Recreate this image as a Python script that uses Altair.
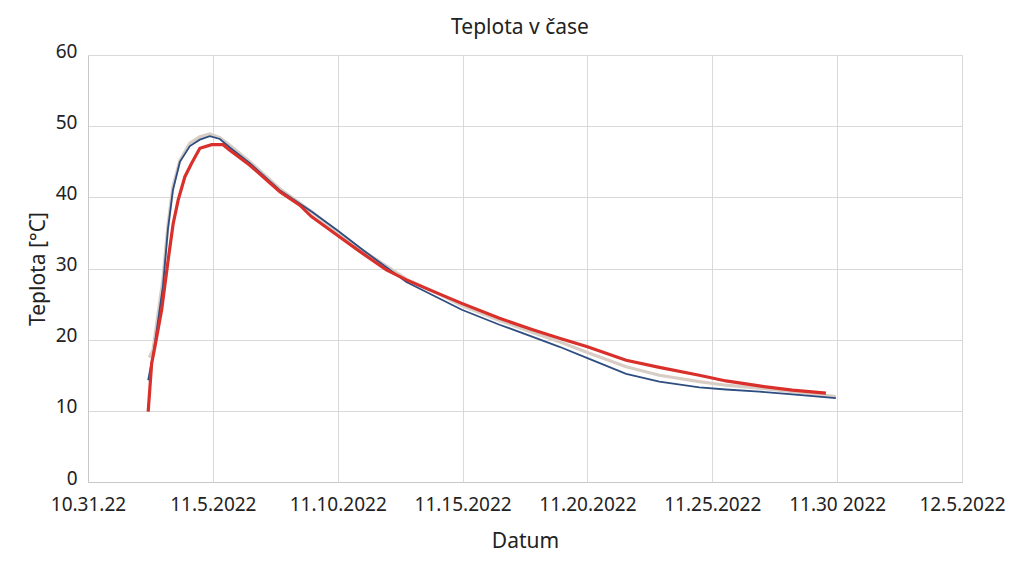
import json
import altair as alt
import pandas as pd

# ---- data ----
x_tick_days = [0, 5, 10, 15, 20, 25, 30, 35]
x_tick_labels = ["10.31.22", "11.5.2022", "11.10.2022", "11.15.2022",
                 "11.20.2022", "11.25.2022", "11.30 2022", "12.5.2022"]
y_ticks = [0, 10, 20, 30, 40, 50, 60]

beige_day = [2.45, 2.6, 2.8, 3.0, 3.2, 3.4, 3.68, 4.08, 4.48, 4.88, 5.28, 5.68, 6.48,
             7.68, 8.95, 9.97, 11.01, 12.75, 13.95, 14.97, 16.48, 17.81, 18.88, 20.0,
             21.55, 22.88, 24.48, 25.55, 26.88, 28.21, 29.95]
beige_temp = [17.5, 18.5, 23.5, 28.5, 36.0, 41.5, 45.2, 47.6, 48.5, 48.9, 48.4, 47.3, 45.0,
              41.2, 38.0, 35.2, 32.5, 28.5, 26.6, 24.8, 22.7, 21.0, 19.7, 18.2,
              16.2, 15.0, 14.1, 13.6, 13.2, 12.7, 12.0]

blue_day = [2.41, 2.5, 2.6, 2.8, 3.0, 3.2, 3.4, 3.68, 4.08, 4.48, 4.88, 5.28, 5.68, 6.48,
            7.68, 8.95, 9.97, 11.01, 12.75, 13.95, 14.97, 16.48, 17.81, 18.88, 20.0,
            21.55, 22.88, 24.48, 25.55, 26.88, 28.21, 29.95]
blue_temp = [14.3, 16.0, 17.6, 22.5, 27.5, 35.5, 41.0, 45.0, 47.2, 48.1, 48.6, 48.2, 47.0, 44.8,
             41.0, 38.0, 35.4, 32.6, 28.1, 26.0, 24.2, 22.1, 20.4, 19.0, 17.4,
             15.2, 14.1, 13.3, 13.0, 12.7, 12.3, 11.8]

red_day = [2.41, 2.55, 2.68, 2.95, 3.21, 3.41, 3.61, 3.88, 4.15, 4.48, 4.95, 5.41, 5.68,
           6.48, 7.68, 8.48, 8.95, 9.97, 10.88, 11.95, 12.75, 13.68, 14.97, 16.48, 17.81,
           18.88, 20.0, 21.55, 22.88, 24.48, 25.55, 26.88, 28.21, 29.55]
red_temp = [9.9, 16.7, 19.0, 24.2, 31.2, 36.3, 39.6, 42.9, 44.8, 46.9, 47.4, 47.4, 46.6,
            44.5, 40.8, 38.9, 37.3, 34.7, 32.4, 29.8, 28.4, 27.0, 25.1, 23.0, 21.4,
            20.2, 19.0, 17.1, 16.1, 15.0, 14.2, 13.5, 12.9, 12.5]

FONT = "Noto Sans"

df_beige = pd.DataFrame({"day": beige_day, "temp": beige_temp})
df_blue = pd.DataFrame({"day": blue_day, "temp": blue_temp})
df_red = pd.DataFrame({"day": red_day, "temp": red_temp})

label_expr = json.dumps(x_tick_labels) + "[round(datum.value / 5)]"

x_enc = alt.X(
    "day:Q",
    scale=alt.Scale(domain=[0, 35], nice=False, zero=False),
    axis=alt.Axis(
        title="Datum", values=x_tick_days, labelExpr=label_expr,
        ticks=False, labelPadding=13, titlePadding=16,
        labelFontSize=19, titleFontSize=21, titleFontWeight="normal",
        labelFont=FONT, titleFont=FONT, labelColor="#222222", titleColor="#222222",
        grid=True, gridColor="#d9d9d9", domainColor="#c8c8c8",
        labelOverlap=False, labelFlush=False,
    ),
)
y_enc = alt.Y(
    "temp:Q",
    scale=alt.Scale(domain=[0, 60], nice=False),
    axis=alt.Axis(
        title="Teplota [°C]", values=y_ticks,
        ticks=False, labelPadding=11, titlePadding=7,
        labelFontSize=19, titleFontSize=21, titleFontWeight="normal",
        labelFont=FONT, titleFont=FONT, labelColor="#222222", titleColor="#222222",
        grid=True, gridColor="#d9d9d9", domainColor="#c8c8c8",
        labelOffset=-4,
    ),
)

beige = alt.Chart(df_beige).mark_line(color="#d8cdc5", strokeWidth=3.2).encode(x=x_enc, y=y_enc)
blue = alt.Chart(df_blue).mark_line(color="#2e4d80", strokeWidth=1.8).encode(x=x_enc, y=y_enc)
red = alt.Chart(df_red).mark_line(color="#d9302b", strokeWidth=3.2).encode(x=x_enc, y=y_enc)

chart = (
    alt.layer(beige, blue, red)
    .properties(
        width=874, height=427,
        autosize=alt.AutoSizeParams(type="none"),
        padding={"left": 80, "top": 47, "right": 50, "bottom": 70},
        title=alt.TitleParams("Teplota v čase", font=FONT, fontSize=21,
                              fontWeight="normal", color="#222222",
                              anchor="middle", offset=4, dx=-5),
    )
    .configure_view(stroke=None)
    .configure(background="white")
)

chart.save("out.html", embed_options={"renderer": "svg", "actions": False})
